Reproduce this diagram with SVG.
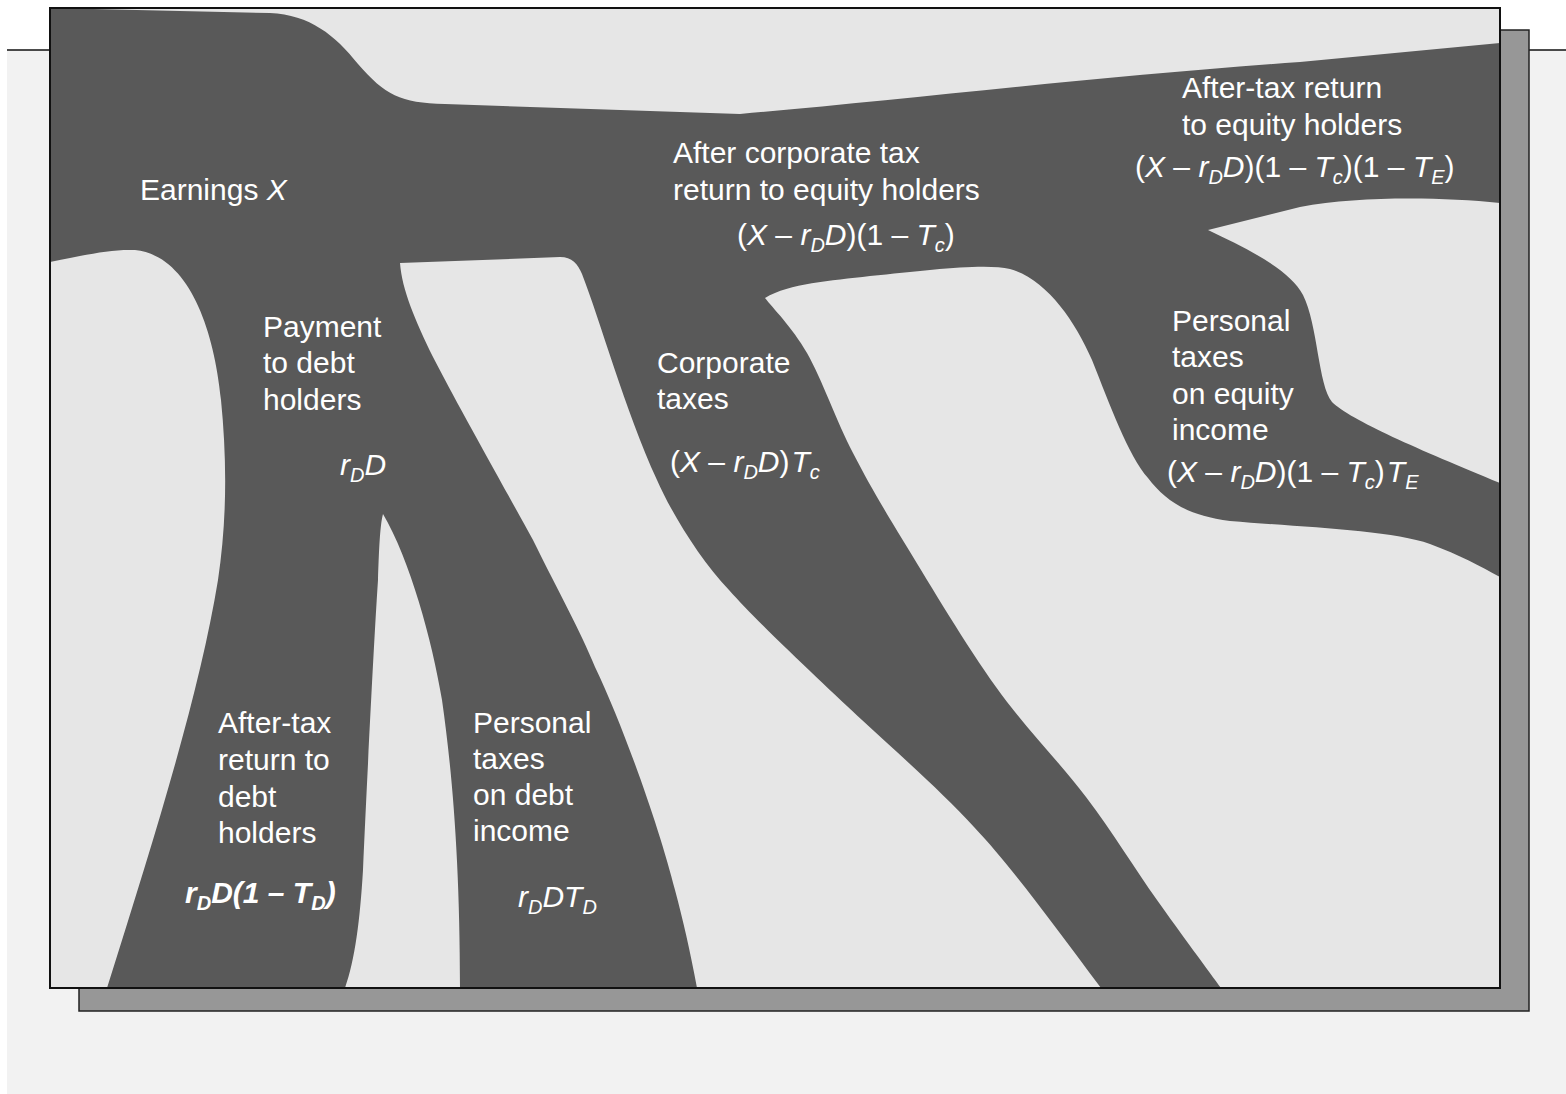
<svg xmlns="http://www.w3.org/2000/svg" width="1566" height="1094" viewBox="0 0 1566 1094">
<style>
.lbl{font-family:"Liberation Sans",Arial,Helvetica,sans-serif;font-size:30px;fill:#ffffff}
.i{font-style:italic}
.b{font-weight:bold}
.s{font-size:20px}
.gap{fill:#e6e6e6;stroke:none}
</style>
<g id="page">
<rect x="0" y="0" width="1566" height="1094" fill="#ffffff"/>
<rect x="7" y="50" width="1559" height="1044" fill="#f2f2f2"/>
<line x1="7" y1="50" x2="1566" y2="50" stroke="#111" stroke-width="1.5"/>
<rect id="shadow" x="79" y="30" width="1450" height="981" fill="#979797" stroke="#222" stroke-width="1.5"/>
<rect id="panel" x="50" y="8" width="1450" height="980" fill="#595959"/>
</g>
<g id="flows">
<path id="gap-top" class="gap" d="M50,8 L270,13 C310,15 335,35 358,64 C385,95 400,103 445,104 L740,114 C900,100 1100,76 1300,62 L1500,43 L1500,8 Z"/>
<path id="gap-right" class="gap" d="M1500,203 C1440,197 1360,196 1300,207 L1208,230 C1250,250 1290,270 1303,295 C1318,325 1318,385 1332,402 C1350,420 1420,450 1500,483 Z"/>
<path id="gap-middle-right" class="gap" d="M765,298 C790,283 830,281 870,276 C930,270 985,263 1010,269 C1045,278 1075,320 1092,360 C1110,405 1128,455 1148,478 C1165,500 1185,515 1230,521 C1300,527 1390,530 1430,544 C1460,555 1480,566 1500,577 L1500,988 L1221,988 C1210.3,973.3 1179.5,931.8 1157,900 C1134.5,868.2 1112.8,832.5 1086,797 C1059.2,761.5 1025.8,728.7 996,687 C966.2,645.3 930.8,586 907,547 C883.2,508 869.7,485.3 853,453 C836.3,420.7 821.7,378.8 807,353 C792.3,327.2 772,307.2 765,298 Z"/>
<path id="gap-middle" class="gap" d="M400,263 L560,257 C572,257 578,264 582,274 C600,320 625,410 657,480 C670,510 700,560 729,590 C760,625 830,690 862,720 C900,755 945,795 974,827 C1010,865 1050,920 1101,988 L697,988 C690,950 683,920 675,890 C660,830 625,730 595,667 C580,630 560,595 533,540 C500,480 455,400 433,357 C415,320 402,290 400,263 Z"/>
<path id="gap-wedge" class="gap" d="M383,514 C410,560 432,640 442,700 C452,770 460,860 460,988 L345,988 C355,960 360,920 363,870 C367,780 374,640 378,580 C379,550 380,525 383,514 Z"/>
<path id="gap-left" class="gap" d="M50,262 C85,255 110,249 135,250 C185,255 213,320 221,400 C227,460 227,520 218,580 C200,690 160,820 107,988 L50,988 Z"/>
</g>
<rect id="panel-border" x="50" y="8" width="1450" height="980" fill="none" stroke="#111" stroke-width="2"/>
<g id="earnings">
<text class="lbl" x="140" y="200">Earnings <tspan class="i">X</tspan></text>
</g>
<g id="payment-debt">
<text class="lbl" x="263" y="337">Payment</text>
<text class="lbl" x="263" y="373">to debt</text>
<text class="lbl" x="263" y="410">holders</text>
<text class="lbl i" x="340" y="475">r<tspan class="s" dy="7">D</tspan><tspan dy="-7">D</tspan></text>
</g>
<g id="after-corp-equity">
<text class="lbl" x="673" y="163">After corporate tax</text>
<text class="lbl" x="673" y="200">return to equity holders</text>
<text class="lbl" x="737" y="245">(<tspan class="i">X</tspan> – <tspan class="i">r</tspan><tspan class="i s" dy="7">D</tspan><tspan class="i" dy="-7">D</tspan>)(1 – <tspan class="i">T</tspan><tspan class="i s" dy="7">c</tspan><tspan dy="-7">)</tspan></text>
</g>
<g id="corporate-taxes">
<text class="lbl" x="657" y="373">Corporate</text>
<text class="lbl" x="657" y="409">taxes</text>
<text class="lbl" x="670" y="472">(<tspan class="i">X</tspan> – <tspan class="i">r</tspan><tspan class="i s" dy="7">D</tspan><tspan class="i" dy="-7">D</tspan>)<tspan class="i" dx="2">T</tspan><tspan class="i s" dy="7">c</tspan></text>
</g>
<g id="after-tax-equity">
<text class="lbl" x="1182" y="98">After-tax return</text>
<text class="lbl" x="1182" y="135">to equity holders</text>
<text class="lbl" x="1135" y="177">(<tspan class="i">X</tspan> – <tspan class="i">r</tspan><tspan class="i s" dy="7">D</tspan><tspan class="i" dy="-7">D</tspan>)(1 – <tspan class="i">T</tspan><tspan class="i s" dy="7">c</tspan><tspan dy="-7">)(1 – </tspan><tspan class="i">T</tspan><tspan class="i s" dy="7">E</tspan><tspan dy="-7">)</tspan></text>
</g>
<g id="personal-equity-taxes">
<text class="lbl" x="1172" y="331">Personal</text>
<text class="lbl" x="1172" y="367">taxes</text>
<text class="lbl" x="1172" y="404">on equity</text>
<text class="lbl" x="1172" y="440">income</text>
<text class="lbl" x="1167" y="482">(<tspan class="i">X</tspan> – <tspan class="i">r</tspan><tspan class="i s" dy="7">D</tspan><tspan class="i" dy="-7">D</tspan>)(1 – <tspan class="i">T</tspan><tspan class="i s" dy="7">c</tspan><tspan dy="-7">)</tspan><tspan class="i" dx="2">T</tspan><tspan class="i s" dy="7">E</tspan></text>
</g>
<g id="after-tax-debt">
<text class="lbl" x="218" y="733">After-tax</text>
<text class="lbl" x="218" y="770">return to</text>
<text class="lbl" x="218" y="807">debt</text>
<text class="lbl" x="218" y="843">holders</text>
<text class="lbl b i" x="185" y="903">r<tspan class="s" dy="7">D</tspan><tspan dy="-7">D(1 – T</tspan><tspan class="s" dy="7">D</tspan><tspan dy="-7">)</tspan></text>
</g>
<g id="personal-debt-taxes">
<text class="lbl" x="473" y="733">Personal</text>
<text class="lbl" x="473" y="769">taxes</text>
<text class="lbl" x="473" y="805">on debt</text>
<text class="lbl" x="473" y="841">income</text>
<text class="lbl i" x="518" y="907">r<tspan class="s" dy="7">D</tspan><tspan dy="-7">DT</tspan><tspan class="s" dy="7">D</tspan></text>
</g>
</svg>
